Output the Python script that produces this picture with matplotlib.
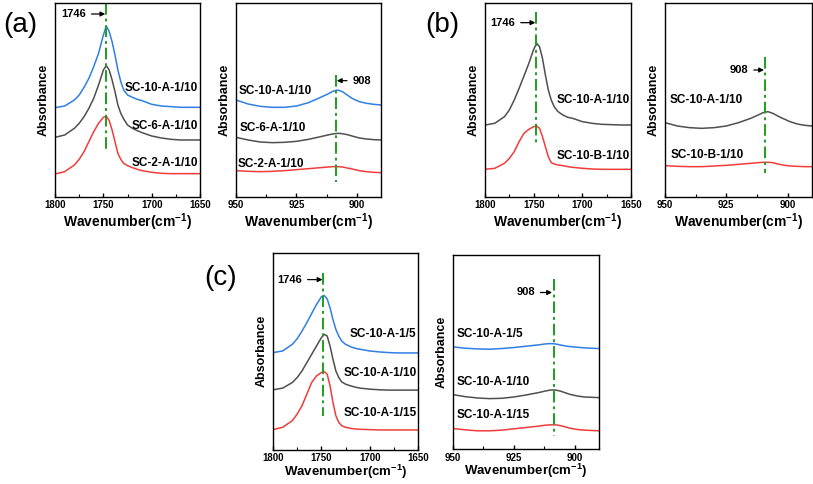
import numpy as np
import matplotlib
matplotlib.use("Agg")
import matplotlib.pyplot as plt
from matplotlib.ticker import MultipleLocator

plt.rcParams['font.family'] = ['Liberation Sans', 'DejaVu Sans']
plt.rcParams['mathtext.fontset'] = 'custom'
plt.rcParams['mathtext.rm'] = 'Liberation Sans'
plt.rcParams['mathtext.bf'] = 'Liberation Sans:bold'

# wavenumber grids (cm-1)
wn_co = [1800, 1790, 1780, 1775, 1770, 1765, 1760, 1755, 1750, 1747, 1744, 1741, 1738,
         1735, 1732, 1729, 1725, 1720, 1715, 1710, 1700, 1690, 1680, 1670, 1660, 1650]
wn_ep = [950, 945, 940, 935, 930, 925, 920, 915, 912, 910, 908, 906, 904, 902, 899, 896, 893, 890]

# (a) C=O region, offset absorbance (a.u.)
a_co_10 = [2.77, 2.82, 3.00, 3.15, 3.38, 3.65, 4.00, 4.40, 4.95, 5.22, 5.05, 4.75, 4.35,
           3.90, 3.55, 3.30, 3.15, 3.08, 3.02, 2.98, 2.87, 2.82, 2.80, 2.78, 2.78, 2.78]
a_co_6 = [1.88, 1.95, 2.15, 2.30, 2.50, 2.75, 3.05, 3.45, 3.90, 4.03, 3.90, 3.60, 3.25,
          2.85, 2.60, 2.43, 2.25, 2.15, 2.08, 2.02, 1.92, 1.86, 1.82, 1.80, 1.80, 1.80]
a_co_2 = [0.78, 0.85, 1.05, 1.22, 1.45, 1.75, 2.05, 2.30, 2.48, 2.52, 2.38, 2.10, 1.75,
          1.40, 1.22, 1.10, 1.03, 0.97, 0.92, 0.88, 0.83, 0.80, 0.79, 0.79, 0.79, 0.79]
# (a) epoxy region
a_ep_10 = [3.00, 2.88, 2.81, 2.78, 2.78, 2.82, 2.92, 3.08, 3.18, 3.26, 3.30, 3.25, 3.15,
           3.05, 2.95, 2.90, 2.87, 2.85]
a_ep_6 = [1.88, 1.80, 1.74, 1.72, 1.73, 1.76, 1.82, 1.90, 1.95, 1.98, 2.00, 1.99, 1.96,
          1.92, 1.86, 1.83, 1.81, 1.80]
a_ep_2 = [0.88, 0.86, 0.85, 0.86, 0.88, 0.91, 0.94, 0.97, 0.99, 1.00, 1.00, 0.99, 0.96,
          0.93, 0.88, 0.85, 0.83, 0.82]

# (b)
b_co_A = [2.25, 2.30, 2.50, 2.70, 3.00, 3.35, 3.72, 4.10, 4.52, 4.70, 4.60, 4.25, 3.75,
          3.30, 3.00, 2.80, 2.65, 2.55, 2.48, 2.45, 2.35, 2.30, 2.27, 2.26, 2.25, 2.25]
b_co_B = [0.92, 0.95, 1.10, 1.25, 1.45, 1.75, 2.00, 2.12, 2.20, 2.22, 2.15, 1.90, 1.60,
          1.30, 1.12, 1.08, 1.05, 1.03, 1.00, 0.98, 0.95, 0.93, 0.92, 0.92, 0.92, 0.92]
b_ep_A = [2.32, 2.22, 2.17, 2.15, 2.17, 2.22, 2.32, 2.45, 2.55, 2.62, 2.65, 2.60, 2.52,
          2.45, 2.35, 2.28, 2.24, 2.22]
b_ep_B = [1.03, 1.01, 1.00, 1.00, 1.02, 1.04, 1.07, 1.10, 1.12, 1.13, 1.13, 1.12, 1.08,
          1.05, 1.02, 1.01, 1.00, 1.00]

# (c)
c_co_5 = [2.92, 2.97, 3.17, 3.34, 3.57, 3.82, 4.10, 4.37, 4.60, 4.64, 4.54, 4.27, 3.92,
          3.62, 3.42, 3.27, 3.17, 3.10, 3.05, 3.02, 2.97, 2.94, 2.92, 2.91, 2.91, 2.91]
c_co_10 = [1.80, 1.85, 2.02, 2.17, 2.37, 2.62, 2.87, 3.12, 3.37, 3.47, 3.42, 3.12, 2.72,
           2.37, 2.17, 2.04, 1.97, 1.92, 1.88, 1.85, 1.82, 1.80, 1.79, 1.79, 1.79, 1.79]
c_co_15 = [0.60, 0.67, 0.87, 1.07, 1.32, 1.67, 2.02, 2.22, 2.32, 2.35, 2.27, 1.92, 1.42,
           1.02, 0.82, 0.72, 0.67, 0.64, 0.62, 0.61, 0.60, 0.59, 0.59, 0.59, 0.59, 0.59]
c_ep_5 = [3.08, 3.04, 3.02, 3.01, 3.03, 3.06, 3.10, 3.14, 3.17, 3.18, 3.17, 3.14, 3.11,
          3.09, 3.07, 3.05, 3.04, 3.03]
c_ep_10 = [1.64, 1.58, 1.54, 1.52, 1.53, 1.57, 1.63, 1.70, 1.75, 1.78, 1.78, 1.75, 1.70,
           1.65, 1.60, 1.57, 1.56, 1.55]
c_ep_15 = [0.62, 0.58, 0.55, 0.55, 0.57, 0.61, 0.65, 0.69, 0.72, 0.73, 0.73, 0.71, 0.67,
           0.63, 0.59, 0.57, 0.56, 0.55]

BLUE = '#2f7fe6'
GRAY = '#4f4f4f'
RED = '#f23c3c'
GREEN = '#1e9e1e'

fig = plt.figure(figsize=(8.13, 4.84), dpi=100)


def setup(ax, left_region, ylim, xlabelpad=1, xlabelsize=10):
    if left_region:
        ax.set_xlim(1800, 1650)
        ax.xaxis.set_major_locator(MultipleLocator(50))
        ax.xaxis.set_minor_locator(MultipleLocator(25))
    else:
        ax.set_xlim(950, 890)
        ax.xaxis.set_major_locator(MultipleLocator(25))
        ax.xaxis.set_minor_locator(MultipleLocator(12.5))
    ax.set_ylim(*ylim)
    ax.set_yticks([])
    ax.tick_params(axis='x', which='major', direction='in', length=3, width=1, pad=2.5,
                   labelsize=7)
    ax.tick_params(axis='x', which='minor', direction='in', length=2, width=0.8)
    for lab in ax.get_xticklabels():
        lab.set_fontweight('bold')
    for sp in ax.spines.values():
        sp.set_linewidth(1.0)
    ax.set_ylabel('Absorbance', fontsize=9, fontweight='bold', labelpad=4)
    ax.set_xlabel(r'Wavenumber(cm$^{\mathbf{-1}}$)', fontsize=xlabelsize,
                  fontweight='bold', labelpad=xlabelpad)


def peak_line(ax, x, y0, y1):
    ax.plot([x, x], [y0, y1], color=GREEN, lw=1.4, ls='-.', dashes=(6, 2, 1.5, 2))


def arrow_label(ax, text, head, tail, y, text_side):
    ha = 'right' if text_side == 'left' else 'left'
    ax.annotate(text, xy=(head, y), xytext=(tail, y), ha=ha, va='center',
                fontsize=8, fontweight='bold',
                arrowprops=dict(arrowstyle='-|>', color='black', lw=0.9,
                                mutation_scale=7, shrinkA=2, shrinkB=0))


def label(ax, x, y, text, ha):
    ax.text(x, y, text, ha=ha, va='center', fontsize=8.5, fontweight='bold')


top_ylim = (0.09, 5.91)

# ---- (a) ----
ax = fig.add_axes([0.0677, 0.593, 0.1784, 0.4008])
ax.plot(wn_co, a_co_10, color=BLUE, lw=1.1)
ax.plot(wn_co, a_co_6, color=GRAY, lw=1.1)
ax.plot(wn_co, a_co_2, color=RED, lw=1.1)
setup(ax, True, top_ylim)
peak_line(ax, 1747.5, 5.91, 1.45)
arrow_label(ax, '1746', 1748.0, 1768, 5.58, 'left')
label(ax, 1652, 3.35, 'SC-10-A-1/10', 'right')
label(ax, 1652, 2.22, 'SC-6-A-1/10', 'right')
label(ax, 1652, 1.10, 'SC-2-A-1/10', 'right')
fig.text(0.025, 0.948, '(a)', fontsize=20, ha='center', va='center')

ax = fig.add_axes([0.2903, 0.593, 0.1784, 0.4008])
ax.plot(wn_ep, a_ep_10, color=BLUE, lw=1.1)
ax.plot(wn_ep, a_ep_6, color=GRAY, lw=1.1)
ax.plot(wn_ep, a_ep_2, color=RED, lw=1.1)
setup(ax, False, top_ylim)
peak_line(ax, 908.8, 3.75, 0.53)
arrow_label(ax, '908', 908.3, 901.8, 3.58, 'right')
label(ax, 949.0, 3.28, 'SC-10-A-1/10', 'left')
label(ax, 948.3, 2.15, 'SC-6-A-1/10', 'left')
label(ax, 949.2, 1.08, 'SC-2-A-1/10', 'left')

# ---- (b) ----
ax = fig.add_axes([0.5966, 0.593, 0.1796, 0.4008])
ax.plot(wn_co, b_co_A, color=GRAY, lw=1.1)
ax.plot(wn_co, b_co_B, color=RED, lw=1.1)
setup(ax, True, top_ylim)
peak_line(ax, 1747.6, 5.63, 1.68)
arrow_label(ax, '1746', 1748.3, 1769, 5.32, 'left')
label(ax, 1651, 3.0, 'SC-10-A-1/10', 'right')
label(ax, 1651, 1.32, 'SC-10-B-1/10', 'right')
fig.text(0.544, 0.948, '(b)', fontsize=20, ha='center', va='center')

ax = fig.add_axes([0.818, 0.593, 0.1808, 0.4008])
ax.plot(wn_ep, b_ep_A, color=GRAY, lw=1.1)
ax.plot(wn_ep, b_ep_B, color=RED, lw=1.1)
setup(ax, False, top_ylim)
peak_line(ax, 909.1, 4.28, 0.82)
arrow_label(ax, '908', 909.6, 916.0, 3.9, 'left')
label(ax, 948.2, 3.0, 'SC-10-A-1/10', 'left')
label(ax, 947.7, 1.35, 'SC-10-B-1/10', 'left')

# ---- (c) ----  (bottom row sits close to the edge, so the x label is a bit tighter)
ax = fig.add_axes([0.3358, 0.0712, 0.1784, 0.406])
ax.plot(wn_co, c_co_5, color=BLUE, lw=1.1)
ax.plot(wn_co, c_co_10, color=GRAY, lw=1.1)
ax.plot(wn_co, c_co_15, color=RED, lw=1.1)
setup(ax, True, (0, 5.92), xlabelpad=-0.5, xlabelsize=9.5)
peak_line(ax, 1748.2, 5.32, 1.02)
arrow_label(ax, '1746', 1748.8, 1770, 5.12, 'left')
label(ax, 1651.5, 3.47, 'SC-10-A-1/5', 'right')
label(ax, 1651.5, 2.32, 'SC-10-A-1/10', 'right')
label(ax, 1651.5, 1.10, 'SC-10-A-1/15', 'right')
fig.text(0.271, 0.425, '(c)', fontsize=20, ha='center', va='center')

ax = fig.add_axes([0.5572, 0.0722, 0.1796, 0.4009])
ax.plot(wn_ep, c_ep_5, color=BLUE, lw=1.1)
ax.plot(wn_ep, c_ep_10, color=GRAY, lw=1.1)
ax.plot(wn_ep, c_ep_15, color=RED, lw=1.1)
setup(ax, False, (0, 5.85), xlabelpad=-0.5, xlabelsize=9.5)
peak_line(ax, 908.6, 5.12, 0.40)
arrow_label(ax, '908', 909.3, 916.4, 4.72, 'left')
label(ax, 948.4, 3.48, 'SC-10-A-1/5', 'left')
label(ax, 948.6, 2.02, 'SC-10-A-1/10', 'left')
label(ax, 948.6, 1.03, 'SC-10-A-1/15', 'left')

fig.savefig('out.png', dpi=100)
